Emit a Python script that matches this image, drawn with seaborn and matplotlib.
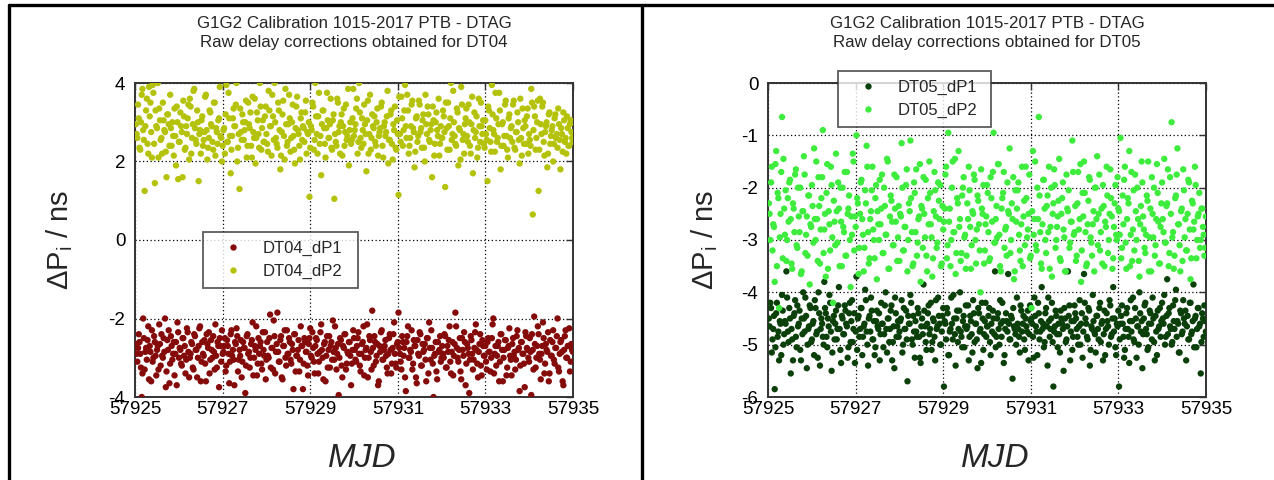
import numpy as np
import pandas as pd
import seaborn as sns
import matplotlib.pyplot as plt
from matplotlib.lines import Line2D

# epochs of the samples (MJD): two interleaved sets of tracks, 30 per day each
mjd_start = 57925.02
mjd_stop = 57934.98
n_points = 300

dt04_dp1_a = [
    -2.65, -3.1, -2.4, -2.9, -4.0, -2.0, -3.3, -2.75, -2.55, -3.55, -2.85, -2.3, -3.0, -2.6, -3.45,
    -2.7, -2.15, -3.2, -2.95, -2.5, -2.0, -3.35, -2.8, -3.65, -2.45, -3.05, -2.6, -2.9, -3.7, -2.35,
    -2.75, -3.15, -2.5, -2.95, -3.4, -2.25, -2.85, -3.0, -2.6, -3.25, -2.4, -2.8, -3.5, -2.7, -2.2,
    -3.1, -2.9, -2.55, -3.6, -2.65, -2.35, -3.05, -2.8, -2.45, -3.3, -2.95, -2.6, -3.75, -2.7, -2.3,
    -2.85, -2.5, -3.2, -2.7, -3.65, -2.4, -2.95, -3.05, -2.6, -2.25, -3.35, -2.8, -2.55, -3.1, -2.75,
    -3.9, -2.45, -2.9, -3.25, -2.65, -2.1, -3.0, -2.8, -3.45, -2.5, -2.7, -3.15, -2.35, -2.95, -3.55,
    -2.6, -3.0, -1.9, -2.75, -3.3, -2.45, -2.85, -1.85, -3.1, -2.55, -3.5, -2.7, -2.3, -3.2, -2.9,
    -2.5, -3.05, -2.65, -3.8, -2.4, -2.95, -2.8, -3.35, -2.2, -2.7, -3.15, -2.6, -2.85, -3.45, -2.5,
    -2.95, -2.35, -3.1, -2.7, -2.55, -3.4, -2.85, -2.15, -3.0, -2.65, -3.6, -2.45, -2.8, -3.25, -2.6,
    -2.05, -3.05, -2.75, -2.9, -3.95, -2.5, -3.2, -2.7, -2.4, -3.3, -2.85, -2.6, -2.95, -3.15, -2.3,
    -2.8, -3.1, -2.5, -2.9, -3.35, -2.65, -2.2, -3.0, -2.75, -3.5, -2.45, -2.85, -1.8, -3.2, -2.6,
    -2.95, -3.7, -2.7, -2.35, -3.05, -2.8, -2.55, -3.25, -2.9, -2.4, -3.4, -2.75, -2.1, -3.15, -2.65,
    -1.85, -2.9, -3.3, -2.6, -2.75, -3.85, -2.45, -3.0, -2.8, -2.3, -3.15, -2.7, -3.5, -2.55, -2.95,
    -2.4, -3.2, -2.85, -2.65, -3.6, -2.5, -2.1, -3.05, -2.75, -4.0, -2.9, -3.35, -2.6, -2.8, -3.1,
    -2.7, -3.0, -2.45, -3.25, -2.85, -2.2, -3.4, -2.6, -2.95, -1.85, -2.75, -3.1, -2.5, -3.55, -2.8,
    -2.35, -3.7, -2.65, -2.9, -3.05, -2.55, -3.3, -2.75, -2.15, -3.15, -2.85, -2.4, -3.45, -2.7, -2.95,
    -3.1, -2.6, -2.85, -3.35, -2.5, -2.0, -2.9, -3.2, -2.7, -3.6, -2.4, -2.8, -3.0, -2.55, -3.45,
    -2.75, -2.25, -3.05, -2.65, -2.95, -3.3, -2.45, -2.8, -3.85, -2.6, -2.9, -3.15, -2.35, -2.75, -3.0,
    -2.5, -3.95, -2.8, -1.95, -3.25, -2.7, -2.4, -3.05, -2.9, -2.1, -3.4, -2.65, -2.85, -3.6, -2.55,
    -2.95, -2.3, -3.15, -2.75, -2.0, -3.35, -2.6, -2.85, -3.7, -2.45, -3.0, -2.7, -2.25, -3.1, -2.8,
]
dt04_dp1_b = [
    -2.9, -2.75, -2.6, -3.25, -3.4, -2.5, -2.85, -3.05, -2.2, -2.7, -3.6, -3.1, -2.45, -2.95, -2.8,
    -3.3, -2.65, -2.4, -3.0, -2.85, -3.75, -2.55, -2.3, -3.15, -2.7, -2.9, -3.45, -2.6, -2.1, -3.0,
    -2.8, -3.2, -2.5, -2.7, -3.05, -2.35, -3.5, -2.9, -2.65, -3.3, -2.45, -2.8, -3.0, -2.25, -3.6,
    -2.6, -2.95, -3.15, -2.4, -2.75, -3.4, -2.55, -3.0, -2.85, -2.15, -3.25, -2.7, -2.5, -3.1, -2.9,
    -2.7, -3.35, -2.55, -2.9, -3.1, -2.3, -2.8, -3.7, -2.65, -2.45, -3.05, -2.95, -3.5, -2.6, -2.75,
    -3.2, -2.4, -2.85, -3.0, -2.55, -3.45, -2.7, -2.2, -3.15, -2.9, -2.6, -3.3, -2.8, -2.35, -3.05,
    -2.95, -2.5, -3.25, -2.75, -2.05, -3.4, -2.65, -2.85, -3.1, -2.45, -3.55, -2.7, -3.0, -2.3, -2.9,
    -2.6, -3.15, -2.8, -2.4, -3.35, -2.95, -2.55, -3.05, -2.7, -3.8, -2.5, -2.85, -3.2, -2.65, -2.25,
    -3.0, -2.75, -3.4, -2.5, -2.9, -3.1, -2.35, -2.8, -3.55, -2.6, -2.95, -3.25, -2.45, -2.7, -3.05,
    -2.85, -2.2, -3.3, -2.65, -3.0, -2.55, -3.5, -2.75, -2.4, -3.15, -2.9, -2.6, -3.7, -2.8, -2.5,
    -3.05, -2.7, -2.35, -3.2, -2.9, -2.6, -3.45, -2.8, -2.15, -3.0, -2.55, -3.3, -2.75, -2.45, -3.1,
    -2.65, -3.6, -2.85, -2.3, -3.05, -2.7, -2.95, -3.4, -2.5, -2.8, -3.15, -2.4, -2.9, -3.25, -2.6,
    -2.75, -3.1, -2.45, -2.95, -3.5, -2.6, -2.2, -3.0, -2.85, -3.3, -2.55, -2.7, -3.65, -2.9, -2.35,
    -3.2, -2.65, -2.8, -3.05, -2.5, -3.4, -2.75, -2.3, -3.15, -2.95, -2.6, -3.55, -2.85, -2.45, -3.0,
    -2.9, -2.4, -3.25, -2.7, -2.55, -3.1, -2.85, -3.45, -2.65, -2.2, -3.0, -2.8, -3.35, -2.5, -2.95,
    -2.6, -3.15, -2.75, -3.9, -2.45, -2.9, -3.05, -2.35, -2.8, -3.5, -2.65, -3.2, -2.55, -2.95, -2.7,
    -3.3, -2.5, -2.85, -3.0, -2.15, -3.4, -2.7, -2.95, -2.6, -3.1, -2.4, -3.6, -2.8, -2.55, -3.25,
    -2.7, -2.95, -3.45, -2.5, -2.85, -3.05, -2.3, -2.75, -3.2, -2.6, -2.9, -3.75, -2.45, -2.8, -3.1,
    -2.85, -2.4, -3.3, -2.65, -3.0, -2.2, -2.9, -3.55, -2.7, -2.5, -3.15, -2.8, -2.35, -3.4, -2.95,
    -2.6, -3.05, -2.75, -2.45, -3.25, -2.9, -2.55, -3.6, -2.8, -2.3, -3.0, -2.7, -3.35, -2.65, -2.85,
]

dt04_dp2_a = [
    2.95, 2.6, 3.1, 2.3, 3.7, 2.8, 1.25, 3.3, 2.45, 3.9, 3.5, 2.1, 3.75, 1.45, 2.9,
    4.0, 3.35, 2.55, 2.2, 3.05, 2.75, 1.6, 3.2, 2.4, 2.85, 3.0, 2.15, 2.65, 3.4, 1.55,
    2.5, 2.9, 1.6, 3.15, 2.35, 2.7, 3.45, 3.6, 2.2, 2.95, 3.85, 2.55, 3.3, 1.5, 2.8,
    3.05, 2.4, 2.75, 3.7, 2.05, 2.6, 3.25, 2.9, 2.3, 3.5, 2.85, 2.45, 3.1, 2.65, 2.0,
    2.8, 2.2, 3.95, 2.5, 3.1, 1.7, 2.65, 3.35, 2.9, 4.0, 2.35, 1.3, 2.75, 3.2, 2.55,
    3.0, 2.1, 3.5, 2.85, 2.4, 3.65, 2.6, 1.95, 3.25, 2.7, 4.0, 2.3, 3.05, 2.5, 3.4,
    2.45, 3.8, 2.9, 2.15, 3.15, 4.0, 2.6, 2.35, 3.3, 1.8, 2.75, 3.55, 2.05, 2.95, 2.5,
    3.7, 2.25, 3.0, 2.65, 1.95, 3.4, 2.8, 2.4, 3.1, 2.55, 2.85, 3.25, 2.2, 2.7, 1.1,
    2.9, 3.5, 2.3, 4.0, 2.7, 3.15, 2.45, 1.65, 3.3, 2.85, 2.1, 3.75, 2.6, 2.95, 2.35,
    3.05, 1.05, 2.5, 3.6, 2.75, 2.2, 3.2, 2.9, 2.4, 3.45, 2.65, 1.9, 3.0, 2.55, 3.85,
    2.8, 3.35, 2.2, 4.0, 2.6, 3.1, 2.45, 2.95, 1.75, 3.55, 2.7, 2.3, 3.2, 2.85, 2.5,
    3.0, 2.15, 2.75, 3.4, 2.4, 2.9, 2.65, 3.15, 1.95, 2.55, 3.3, 2.05, 2.8, 2.35, 3.05,
    1.15, 2.7, 3.65, 2.4, 3.3, 2.9, 3.7, 2.2, 2.6, 3.45, 2.85, 1.85, 3.1, 2.5, 3.55,
    2.75, 2.35, 3.2, 2.0, 2.95, 3.4, 2.55, 2.8, 1.6, 3.05, 2.45, 3.25, 2.65, 2.15, 2.9,
    2.6, 3.15, 1.35, 2.85, 3.5, 2.3, 4.0, 2.7, 3.0, 2.45, 3.35, 1.9, 2.8, 3.9, 2.55,
    2.2, 3.1, 2.65, 3.45, 2.4, 2.95, 1.7, 3.25, 2.75, 2.1, 3.6, 2.5, 2.9, 3.05, 2.35,
    2.7, 1.5, 3.3, 2.5, 3.95, 2.8, 2.25, 3.1, 2.6, 3.75, 1.8, 2.95, 2.4, 3.45, 2.65,
    2.1, 3.2, 2.85, 2.5, 3.55, 2.3, 2.75, 3.0, 1.95, 2.6, 3.35, 2.45, 2.9, 3.15, 2.2,
    2.55, 3.85, 0.65, 3.4, 2.3, 3.0, 1.25, 3.6, 2.7, 3.5, 2.15, 2.9, 1.85, 3.2, 2.45,
    2.8, 2.0, 3.1, 2.6, 2.35, 2.95, 1.8, 2.7, 3.25, 2.5, 2.2, 2.85, 2.4, 3.05, 2.6,
]
dt04_dp2_b = [
    2.7, 3.45, 2.35, 3.0, 3.85, 2.55, 2.9, 3.6, 2.2, 3.15, 2.75, 3.95, 2.45, 3.3, 2.85,
    2.1, 3.05, 2.6, 3.5, 2.8, 2.25, 3.2, 2.95, 3.7, 2.4, 2.65, 3.35, 1.9, 3.0, 2.5,
    3.25, 2.75, 3.55, 2.3, 2.9, 3.1, 2.05, 3.4, 2.6, 3.8, 2.85, 2.45, 3.0, 2.7, 2.2,
    3.15, 2.55, 3.65, 2.8, 2.35, 3.3, 2.95, 2.5, 3.5, 2.15, 2.75, 3.05, 3.9, 2.6, 2.4,
    2.85, 3.2, 2.5, 3.75, 2.65, 2.3, 3.1, 2.9, 3.45, 2.0, 2.7, 3.35, 2.55, 3.0, 2.8,
    3.55, 2.4, 2.95, 3.25, 2.1, 2.75, 3.6, 2.6, 3.05, 2.35, 3.4, 2.85, 2.5, 3.15, 2.7,
    2.25, 3.3, 2.9, 3.7, 2.55, 3.0, 2.45, 3.5, 2.8, 2.15, 3.2, 2.65, 3.85, 2.4, 2.95,
    3.1, 2.6, 3.45, 2.3, 2.85, 3.65, 2.7, 2.05, 3.25, 2.9, 2.5, 3.55, 2.75, 3.0, 2.35,
    2.8, 3.4, 2.55, 3.15, 2.2, 3.75, 2.65, 2.95, 3.3, 2.45, 2.85, 3.05, 2.6, 3.6, 2.3,
    3.2, 2.7, 2.4, 3.5, 2.9, 3.0, 2.15, 3.35, 2.75, 2.55, 3.85, 2.8, 2.45, 3.1, 2.65,
    2.95, 3.6, 2.5, 3.25, 2.35, 2.8, 3.45, 2.7, 3.05, 2.2, 3.7, 2.6, 2.9, 3.15, 2.4,
    3.35, 2.65, 2.85, 3.5, 2.1, 3.0, 2.75, 3.8, 2.55, 3.2, 2.45, 2.95, 3.4, 2.3, 2.7,
    3.65, 2.5, 3.1, 2.8, 3.95, 2.6, 3.3, 2.4, 2.9, 3.55, 2.75, 2.25, 3.15, 2.65, 3.45,
    2.85, 3.05, 2.35, 3.7, 2.7, 3.2, 2.5, 2.95, 3.4, 2.15, 3.0, 2.8, 3.6, 2.45, 2.6,
    3.3, 2.75, 3.5, 2.3, 2.9, 3.1, 2.55, 3.8, 2.65, 2.4, 3.25, 2.85, 2.05, 3.45, 2.7,
    2.95, 3.35, 2.5, 3.0, 2.2, 3.65, 2.8, 2.6, 3.15, 2.35, 2.9, 3.5, 2.7, 2.45, 3.05,
    2.55, 3.4, 2.85, 2.25, 3.2, 2.7, 3.75, 2.5, 2.95, 3.3, 2.4, 3.0, 2.65, 3.55, 2.3,
    3.1, 2.6, 2.9, 3.45, 2.35, 2.75, 3.25, 2.55, 3.6, 2.15, 2.85, 3.05, 2.45, 3.35, 2.7,
    2.4, 3.5, 2.8, 3.15, 2.6, 3.55, 2.3, 2.95, 3.4, 2.5, 2.75, 3.0, 2.2, 3.25, 2.65,
    2.9, 2.45, 3.2, 2.7, 3.35, 2.55, 2.85, 2.25, 3.05, 2.6, 3.15, 2.4, 2.95, 2.75, 2.5,
]

dt05_dp1_a = [
    -4.5, -4.2, -5.15, -4.7, -5.85, -4.4, -4.85, -5.3, -4.6, -4.05, -5.0, -4.55, -3.6, -4.75, -4.3,
    -5.55, -4.9, -4.45, -4.15, -5.05, -4.65, -4.35, -5.3, -4.8, -4.5, -4.1, -5.45, -4.7, -4.25, -4.95,
    -4.6, -5.2, -4.3, -4.75, -4.0, -5.4, -4.5, -4.85, -3.8, -4.4, -5.05, -4.65, -4.2, -5.5, -4.55,
    -4.9, -4.35, -4.7, -3.9, -5.1, -4.45, -4.8, -4.25, -4.6, -5.25, -4.4, -4.95, -4.15, -4.7, -5.35,
    -3.7, -4.5, -4.85, -4.3, -5.2, -4.65, -3.95, -4.75, -5.4, -4.45, -4.1, -4.9, -4.55, -5.05, -4.35,
    -4.7, -5.3, -4.2, -4.6, -4.8, -4.0, -5.15, -4.5, -4.7, -4.25, -4.95, -5.45, -4.4, -4.65, -4.85,
    -4.55, -4.15, -5.0, -4.7, -4.35, -5.7, -4.6, -4.05, -4.9, -4.45, -5.25, -4.75, -4.3, -4.85, -5.35,
    -4.5, -3.85, -4.65, -5.1, -4.4, -4.8, -4.2, -4.95, -4.55, -5.3, -4.7, -4.1, -4.6, -5.0, -4.45,
    -5.8, -4.6, -4.3, -5.2, -4.75, -4.1, -4.9, -4.5, -5.4, -4.35, -4.7, -4.0, -4.85, -4.55, -5.05,
    -4.25, -4.65, -5.3, -4.45, -4.8, -4.15, -4.95, -4.6, -5.45, -4.4, -4.7, -4.2, -5.1, -4.55, -4.85,
    -4.65, -4.3, -5.2, -4.75, -4.5, -3.6, -4.85, -4.4, -5.0, -4.6, -4.2, -5.35, -4.7, -4.55, -3.65,
    -4.9, -4.45, -5.65, -4.65, -4.8, -4.1, -4.7, -5.15, -4.35, -4.6, -4.9, -4.5, -4.75, -5.3, -4.25,
    -4.5, -4.85, -4.1, -4.65, -5.2, -4.4, -4.75, -3.9, -4.6, -4.95, -4.3, -5.4, -4.55, -4.7, -4.2,
    -5.8, -4.65, -4.45, -5.05, -4.8, -4.35, -4.6, -5.5, -4.5, -4.9, -3.6, -4.25, -4.75, -5.1, -4.55,
    -4.4, -4.7, -5.0, -4.15, -4.6, -5.25, -3.65, -4.5, -4.85, -4.3, -5.4, -4.65, -4.05, -4.75, -5.15,
    -4.45, -4.9, -4.2, -4.6, -5.3, -4.35, -4.7, -4.55, -5.0, -4.25, -4.8, -3.9, -4.5, -5.2, -4.65,
    -5.8, -4.6, -4.25, -4.85, -5.1, -4.4, -4.7, -5.35, -4.15, -4.55, -4.9, -4.3, -5.25, -4.65, -4.0,
    -4.75, -5.45, -4.5, -4.2, -4.8, -5.05, -4.35, -4.6, -4.1, -4.95, -4.45, -5.2, -4.7, -4.3, -4.55,
    -4.5, -4.05, -4.85, -3.75, -4.4, -4.65, -5.0, -4.25, -4.7, -3.95, -4.55, -5.15, -4.35, -4.8, -4.15,
    -4.6, -5.3, -4.45, -4.9, -4.2, -4.75, -3.85, -4.5, -5.05, -4.3, -4.65, -5.55, -4.4, -4.85, -4.55,
]
dt05_dp1_b = [
    -4.65, -4.3, -4.9, -4.45, -5.05, -4.2, -4.75, -4.55, -5.2, -4.35, -4.8, -4.6, -4.1, -4.95, -4.5,
    -4.7, -5.3, -4.4, -4.85, -4.25, -4.6, -5.1, -4.5, -4.0, -4.75, -4.45, -5.0, -4.65, -4.3, -4.9,
    -4.55, -4.15, -4.8, -5.25, -4.4, -4.7, -4.6, -5.0, -4.3, -4.85, -4.5, -4.05, -4.75, -5.15, -4.45,
    -4.6, -4.9, -4.25, -4.7, -5.35, -4.5, -4.8, -4.35, -4.65, -5.05, -4.2, -4.55, -4.95, -4.4, -4.75,
    -5.1, -4.45, -4.7, -4.3, -4.85, -4.6, -4.15, -5.0, -4.5, -4.75, -4.35, -4.9, -5.2, -4.55, -4.65,
    -4.4, -4.8, -4.6, -5.05, -4.25, -4.7, -4.5, -4.95, -4.35, -5.3, -4.65, -4.1, -4.85, -4.55, -4.75,
    -4.5, -5.15, -4.3, -4.7, -4.9, -4.45, -4.6, -4.2, -5.0, -4.75, -4.55, -4.85, -4.4, -5.25, -4.65,
    -4.8, -4.35, -4.95, -4.6, -4.25, -4.7, -5.1, -4.5, -4.85, -4.15, -4.65, -4.45, -5.0, -4.75, -4.3,
    -4.55, -4.9, -4.4, -5.2, -4.7, -4.6, -4.05, -4.8, -4.5, -4.95, -4.35, -4.75, -5.05, -4.45, -4.65,
    -4.7, -4.25, -4.85, -4.55, -5.15, -4.4, -4.6, -4.9, -4.3, -4.75, -5.35, -4.5, -4.8, -4.2, -4.65,
    -4.45, -4.95, -4.6, -4.35, -4.8, -5.05, -4.5, -4.7, -4.15, -4.85, -4.55, -5.2, -4.4, -4.75, -4.6,
    -4.9, -4.5, -4.3, -4.7, -5.0, -4.6, -4.85, -4.25, -4.75, -4.45, -5.1, -4.65, -4.35, -4.8, -4.55,
    -4.6, -5.25, -4.45, -4.75, -4.2, -4.9, -4.55, -4.7, -5.05, -4.4, -4.65, -4.1, -4.85, -4.5, -4.95,
    -4.75, -4.35, -4.8, -4.6, -5.15, -4.5, -4.7, -4.3, -4.95, -4.65, -4.45, -5.3, -4.55, -4.85, -4.25,
    -4.5, -4.85, -4.65, -5.0, -4.4, -4.75, -4.2, -4.6, -4.9, -4.35, -5.1, -4.7, -4.55, -4.8, -4.45,
    -4.7, -4.3, -4.95, -4.55, -4.8, -5.2, -4.4, -4.65, -4.15, -4.85, -4.5, -4.75, -5.05, -4.6, -4.35,
    -4.9, -4.45, -4.6, -5.25, -4.7, -4.3, -4.85, -4.55, -4.75, -4.1, -4.95, -4.5, -4.65, -5.0, -4.4,
    -4.55, -4.8, -4.25, -4.7, -5.1, -4.6, -4.4, -4.9, -4.5, -5.3, -4.75, -4.35, -4.65, -4.85, -4.2,
    -4.6, -5.0, -4.45, -4.8, -4.3, -4.7, -4.95, -4.55, -4.15, -4.85, -4.6, -5.15, -4.4, -4.75, -4.5,
    -4.35, -4.65, -4.9, -4.2, -4.8, -4.55, -5.05, -4.45, -4.7, -4.3, -4.6, -4.95, -4.5, -4.25, -4.75,
]

dt05_dp2_a = [
    -2.3, -3.0, -1.6, -2.7, -3.8, -1.3, -2.1, -4.3, -2.5, -0.65, -1.45, -2.9, -3.4, -2.2, -1.9,
    -2.6, -3.55, -2.4, -1.75, -3.1, -2.0, -2.85, -3.65, -2.45, -1.4, -3.25, -2.55, -2.15, -3.85, -2.75,
    -2.35, -1.25, -3.0, -2.6, -1.8, -3.45, -2.2, -0.9, -2.8, -3.7, -1.55, -2.45, -3.2, -1.95, -4.2,
    -2.65, -1.35, -3.05, -2.4, -2.0, -3.5, -2.75, -1.7, -3.3, -2.5, -2.15, -3.9, -2.9, -1.5, -2.55,
    -1.0, -2.3, -3.15, -1.9, -2.6, -3.6, -2.05, -1.2, -2.85, -3.35, -2.45, -1.6, -3.0, -2.2, -3.75,
    -2.7, -1.85, -2.4, -3.25, -2.0, -2.9, -1.45, -3.55, -2.55, -2.25, -3.1, -1.75, -2.65, -3.4, -2.35,
    -2.5, -1.15, -3.2, -2.75, -1.95, -3.6, -2.3, -1.1, -2.85, -3.45, -2.1, -1.65, -3.05, -2.55, -3.8,
    -2.4, -1.8, -2.95, -3.3, -2.2, -1.5, -2.7, -3.7, -2.45, -2.05, -3.15, -1.9, -2.6, -3.5, -2.35,
    -2.65, -1.75, -3.35, -0.95, -2.4, -3.0, -1.5, -2.85, -3.65, -2.2, -1.3, -2.6, -3.25, -2.0, -2.95,
    -3.55, -2.3, -1.6, -2.75, -3.1, -2.5, -1.85, -3.45, -2.15, -2.7, -4.0, -2.4, -1.95, -3.2, -2.55,
    -2.1, -3.4, -1.8, -2.65, -0.95, -3.05, -2.35, -1.55, -2.9, -3.6, -2.2, -1.7, -2.8, -3.3, -2.45,
    -1.25, -3.0, -2.6, -3.75, -2.05, -2.4, -1.9, -3.2, -2.7, -3.5, -2.25, -1.6, -2.95, -2.5, -3.35,
    -4.3, -1.3, -2.6, -3.1, -2.0, -0.65, -2.85, -3.55, -1.85, -2.4, -3.25, -2.15, -1.6, -2.75, -3.7,
    -2.3, -1.95, -3.0, -2.55, -1.45, -3.4, -2.2, -2.8, -3.6, -1.75, -2.45, -3.15, -2.65, -1.1, -2.9,
    -2.35, -3.3, -1.7, -2.6, -3.8, -2.1, -1.5, -2.85, -3.45, -2.25, -1.85, -3.05, -2.7, -3.6, -2.0,
    -1.4, -2.5, -3.2, -2.4, -1.95, -3.5, -2.75, -2.15, -3.0, -1.65, -2.55, -3.35, -2.3, -2.9, -1.8,
    -2.45, -1.05, -3.15, -2.7, -1.6, -3.55, -2.2, -1.3, -2.9, -3.4, -2.05, -1.75, -3.0, -2.6, -3.7,
    -2.35, -1.9, -2.8, -3.25, -2.15, -1.5, -2.95, -3.6, -2.5, -2.0, -3.1, -1.55, -2.65, -3.45, -2.3,
    -2.6, -1.45, -3.05, -2.3, -3.5, -1.8, -0.75, -2.85, -3.3, -2.15, -1.25, -2.7, -3.6, -2.4, -1.65,
    -2.95, -3.2, -2.5, -1.9, -3.75, -2.25, -2.8, -1.6, -3.35, -2.55, -2.1, -3.0, -2.4, -2.9, -3.15,
]
dt05_dp2_b = [
    -2.5, -1.9, -3.2, -2.75, -1.55, -3.5, -2.2, -2.95, -1.7, -3.35, -2.4, -2.05, -3.0, -2.65, -1.85,
    -3.45, -2.3, -2.85, -1.65, -3.15, -2.55, -2.0, -3.6, -2.45, -1.75, -2.9, -3.3, -2.15, -2.7, -1.95,
    -3.05, -2.6, -1.5, -3.4, -2.35, -2.8, -1.8, -3.25, -2.5, -2.1, -3.55, -2.7, -1.6, -2.95, -2.25,
    -3.1, -2.45, -1.9, -3.5, -2.65, -2.0, -2.85, -3.3, -1.7, -2.4, -3.0, -2.55, -1.35, -3.2, -2.75,
    -2.2, -3.65, -2.5, -1.85, -2.9, -3.15, -2.3, -1.6, -3.45, -2.6, -2.05, -2.8, -3.35, -1.95, -2.45,
    -3.0, -2.7, -1.75, -3.25, -2.35, -2.9, -1.5, -3.55, -2.15, -2.65, -3.1, -2.4, -1.8, -2.95, -3.4,
    -2.55, -2.0, -3.2, -2.75, -1.65, -3.0, -2.45, -2.2, -3.5, -1.9, -2.85, -3.3, -2.6, -1.55, -2.35,
    -3.15, -2.5, -1.85, -3.6, -2.7, -2.1, -2.95, -3.35, -1.7, -2.55, -3.05, -2.25, -1.95, -3.45, -2.8,
    -2.4, -1.6, -3.1, -2.65, -3.5, -2.0, -2.85, -1.45, -3.25, -2.3, -2.75, -3.4, -2.15, -1.8, -2.9,
    -3.3, -2.6, -2.05, -3.55, -2.45, -1.75, -3.0, -2.8, -2.25, -3.2, -1.65, -2.5, -3.45, -2.7, -1.95,
    -2.85, -3.35, -2.2, -1.7, -3.05, -2.6, -2.95, -1.55, -3.5, -2.4, -2.1, -3.15, -2.75, -1.9, -2.5,
    -3.25, -2.3, -1.8, -3.6, -2.65, -2.05, -2.9, -3.4, -1.6, -2.55, -3.1, -2.2, -2.8, -1.75, -3.3,
    -2.45, -2.9, -1.5, -3.2, -2.6, -2.15, -3.45, -2.7, -1.85, -3.0, -2.35, -2.85, -3.55, -2.0, -2.5,
    -1.65, -3.15, -2.75, -2.25, -3.35, -2.5, -1.9, -2.95, -3.6, -2.4, -2.05, -3.05, -2.65, -1.7, -2.85,
    -3.4, -2.3, -2.8, -1.55, -3.2, -2.55, -2.1, -3.5, -2.7, -1.8, -2.95, -3.3, -2.45, -2.0, -2.6,
    -3.1, -1.75, -2.85, -3.45, -2.35, -2.65, -1.6, -3.25, -2.5, -2.2, -3.55, -2.75, -1.95, -3.0, -2.4,
    -2.9, -3.35, -2.15, -1.85, -3.05, -2.6, -2.3, -3.5, -1.7, -2.8, -3.2, -2.45, -2.0, -3.4, -2.7,
    -1.5, -2.55, -3.15, -2.9, -2.25, -3.6, -2.4, -1.8, -2.95, -3.3, -2.6, -2.1, -3.45, -2.75, -1.9,
    -2.85, -3.05, -2.35, -1.65, -3.25, -2.5, -2.95, -3.55, -2.2, -1.75, -2.7, -3.1, -2.45, -3.4, -2.05,
    -2.6, -3.2, -1.85, -2.8, -3.35, -2.3, -2.65, -1.95, -3.0, -2.5, -3.15, -2.4, -2.75, -3.3, -2.55,
]

x_ticks = [57925, 57927, 57929, 57931, 57933, 57935]
left_yticks = [-4, -2, 0, 2, 4]
right_yticks = [-6, -5, -4, -3, -2, -1, 0]

W, H = 1274, 480


def series_frame(name, vals_a, vals_b):
    """Long-form table of one series: track set b sits half a step after set a."""
    mjd_a = np.linspace(mjd_start, mjd_stop, n_points)
    mjd_b = mjd_a + (mjd_stop - mjd_start) / (n_points - 1) / 2
    return pd.DataFrame({
        "MJD": np.concatenate([mjd_a, mjd_b]),
        "val": np.concatenate([vals_a, vals_b]),
        "series": name,
    })


def draw_panel(ax, df, names, colors, yticks, legend_box, title_lines, label_x):
    """Scatter the two delay series of one receiver in gnuplot style."""
    sns.scatterplot(data=df, x="MJD", y="val", hue="series", hue_order=names,
                    palette=colors, s=21, linewidth=0, alpha=1.0, ax=ax, zorder=3)

    ax.set_xlim(x_ticks[0], x_ticks[-1])
    ax.set_ylim(yticks[0], yticks[-1])
    ax.set_xticks(x_ticks)
    ax.set_xticklabels([str(t) for t in x_ticks])
    ax.set_yticks(yticks)
    ax.set_yticklabels([str(t) for t in yticks])
    ax.grid(True, color="black", linestyle=(0, (1, 2)), linewidth=0.9)
    ax.set_axisbelow(True)
    ax.tick_params(direction="in", length=5, width=1, colors="#333333",
                   labelcolor="black", labelsize=13.5, top=True, right=True)
    ax.tick_params(axis="x", pad=3)
    ax.tick_params(axis="y", pad=7)
    for sp in ax.spines.values():
        sp.set_color("#333333")
        sp.set_linewidth(1.4)

    ax.set_xlabel("MJD", fontsize=24, fontstyle="italic")
    ax.set_ylabel(r"$\Delta$P$_\mathrm{i}$ / ns", fontsize=21)
    ax.xaxis.set_label_coords(0.52, -0.146)
    ax.yaxis.set_label_coords(label_x, 0.5)

    leg = ax.legend(loc="upper left", bbox_to_anchor=legend_box, mode="expand",
                    borderaxespad=0, fontsize=12, frameon=True, fancybox=False,
                    markerscale=1.0, handletextpad=0.55, borderpad=0.55,
                    labelspacing=0.42, handlelength=2.5)
    leg.get_frame().set_edgecolor("#333333")
    leg.get_frame().set_linewidth(1.3)
    leg.set_zorder(5)

    pos = ax.get_position()
    cx = (pos.x0 + pos.x1) / 2
    fig = ax.figure
    fig.text(cx, 1 - 23 / H, title_lines[0], ha="center", va="center", fontsize=12.2)
    fig.text(cx, 1 - 42 / H, title_lines[1], ha="center", va="center", fontsize=12.2)


sns.set_style("white")
plt.rcParams["font.family"] = ["Liberation Sans", "DejaVu Sans"]
plt.rcParams["mathtext.fontset"] = "custom"
plt.rcParams["mathtext.rm"] = "Liberation Sans"
plt.rcParams["mathtext.it"] = "Liberation Sans:italic"

fig = plt.figure(figsize=(W / 100, H / 100), dpi=100)
ax1 = fig.add_axes([135 / W, 1 - 397 / H, 438 / W, 314 / H])
ax2 = fig.add_axes([768 / W, 1 - 397 / H, 438 / W, 314 / H])

names04 = ["DT04_dP1", "DT04_dP2"]
df04 = pd.concat([series_frame(names04[0], dt04_dp1_a, dt04_dp1_b),
                  series_frame(names04[1], dt04_dp2_a, dt04_dp2_b)], ignore_index=True)
names05 = ["DT05_dP1", "DT05_dP2"]
df05 = pd.concat([series_frame(names05[0], dt05_dp1_a, dt05_dp1_b),
                  series_frame(names05[1], dt05_dp2_a, dt05_dp2_b)], ignore_index=True)

draw_panel(ax1, df04, names04, ["#850a0a", "#b5c20a"], left_yticks,
           (0.155, 0.325, 0.354, 0.2),
           ["G1G2 Calibration 1015-2017 PTB - DTAG", "Raw delay corrections obtained for DT04"],
           -0.137)
draw_panel(ax2, df05, names05, ["#0b400b", "#3dec3d"], right_yticks,
           (0.16, 0.838, 0.349, 0.2),
           ["G1G2 Calibration 1015-2017 PTB - DTAG", "Raw delay corrections obtained for DT05"],
           -0.11)

# outer frame lines of the two panels
for xs, ys in [([9 / W, 1], [1 - 5 / H, 1 - 5 / H]),
               ([9 / W, 9 / W], [0, 1 - 5 / H]),
               ([642 / W, 642 / W], [0, 1 - 5 / H])]:
    fig.add_artist(Line2D(xs, ys, color="black", linewidth=2.4, transform=fig.transFigure))

fig.savefig("out.png", dpi=100, facecolor="white")
